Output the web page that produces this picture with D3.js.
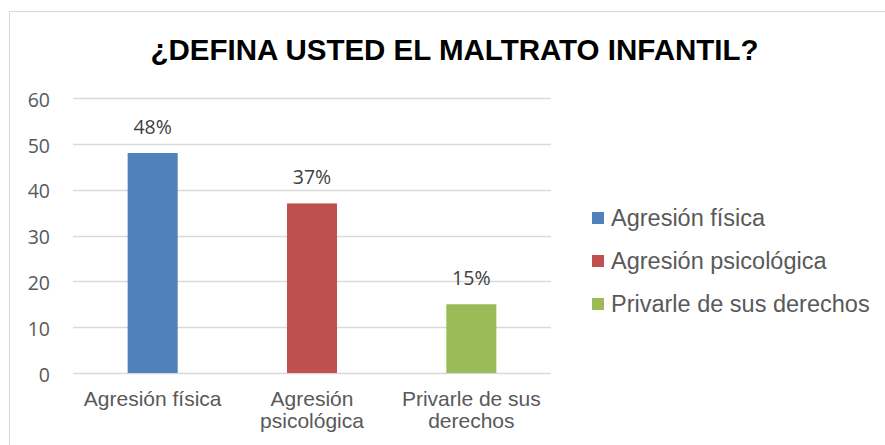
<!DOCTYPE html>
<html>
<head>
<meta charset="utf-8">
<script src="https://cdn.jsdelivr.net/npm/d3@7"></script>
<style>
  body { margin: 0; background: #fff; }
  svg { display: block; }
</style>
</head>
<body>
<div id="chart"></div>
<script>
  'use strict';

  // chart data
  var title = '¿DEFINA USTED EL MALTRATO INFANTIL?';
  var categories = ['Agresión física', 'Agresión psicológica', 'Privarle de sus derechos'];
  var axisLines = [['Agresión física'], ['Agresión', 'psicológica'], ['Privarle de sus', 'derechos']];
  var values = [48, 37, 15];
  var valueLabels = ['48%', '37%', '15%'];
  var colors = ['#4f81bd', '#c0504d', '#9bbb59'];
  var yTicks = [0, 10, 20, 30, 40, 50, 60];

  var width = 885;
  var height = 445;
  var margins = { top: 98, right: 334, bottom: 72, left: 73 };

  var svg = d3.select('#chart').append('svg')
    .attr('width', width)
    .attr('height', height);

  // chart area border (right/bottom edges fall outside the picture)
  svg.append('rect')
    .attr('x', 9.5).attr('y', 11.5)
    .attr('width', 900).attr('height', 460)
    .attr('fill', 'none')
    .attr('stroke', '#d9d9d9');

  svg.append('text')
    .attr('x', 454.5).attr('y', 60)
    .attr('text-anchor', 'middle')
    .style('font-family', 'Liberation Sans, Arial, sans-serif')
    .style('font-weight', 'bold')
    .style('font-size', '29.5px')
    .attr('fill', '#000')
    .text(title);

  var x = d3.scaleBand()
    .domain(categories)
    .range([margins.left, width - margins.right])
    .paddingInner(0.686)
    .paddingOuter(0.343);

  var y = d3.scaleLinear()
    .domain([0, 60])
    .range([height - margins.bottom, margins.top]);

  // gridlines
  svg.append('g').selectAll('line')
    .data(yTicks)
    .enter()
    .append('line')
      .attr('x1', margins.left)
      .attr('x2', width - margins.right)
      .attr('y1', function (d) { return Math.round(y(d)) + 0.5; })
      .attr('y2', function (d) { return Math.round(y(d)) + 0.5; })
      .attr('stroke', '#d9d9d9')
      .attr('stroke-width', 1.5);

  // y axis labels
  var yAxis = svg.append('g')
    .attr('transform', 'translate(' + (margins.left - 23) + ',0)')
    .call(d3.axisLeft(y).tickValues(yTicks).tickSize(0).tickPadding(0));
  yAxis.select('.domain').remove();
  yAxis.selectAll('text')
    .attr('dy', '0.42em')
    .style('font-family', 'Open Sans, sans-serif')
    .style('font-size', '19.5px')
    .attr('fill', '#595959');

  // bars
  svg.append('g').selectAll('rect')
    .data(values)
    .enter()
    .append('rect')
      .attr('x', function (d, i) { return x(categories[i]); })
      .attr('y', function (d) { return y(d); })
      .attr('width', x.bandwidth())
      .attr('height', function (d) { return y(0) - y(d); })
      .attr('fill', function (d, i) { return colors[i]; });

  // value labels
  svg.append('g').selectAll('text')
    .data(values)
    .enter()
    .append('text')
      .attr('x', function (d, i) { return x(categories[i]) + x.bandwidth() / 2; })
      .attr('y', function (d) { return y(d) - 19; })
      .attr('text-anchor', 'middle')
      .style('font-family', 'Open Sans, sans-serif')
      .style('font-size', '19.5px')
      .attr('fill', '#404040')
      .text(function (d, i) { return valueLabels[i]; });

  // category labels
  var cat = svg.append('g').selectAll('text')
    .data(categories)
    .enter()
    .append('text')
      .attr('x', function (d) { return x(d) + x.bandwidth() / 2; })
      .attr('y', 406)
      .attr('text-anchor', 'middle')
      .style('font-family', 'Liberation Sans, Arial, sans-serif')
      .style('font-size', '21px')
      .attr('fill', '#595959');
  cat.selectAll('tspan')
    .data(function (d, i) { return axisLines[i]; })
    .enter()
    .append('tspan')
      .attr('x', function () { return d3.select(this.parentNode).attr('x'); })
      .attr('dy', function (d, i) { return i === 0 ? 0 : 22; })
      .text(function (d) { return d; });

  // legend
  var legend = svg.append('g').selectAll('g')
    .data(categories)
    .enter()
    .append('g')
      .attr('transform', function (d, i) { return 'translate(592,' + (212 + i * 43) + ')'; });
  legend.append('rect')
    .attr('width', 12).attr('height', 12)
    .attr('fill', function (d, i) { return colors[i]; });
  legend.append('text')
    .attr('x', 19).attr('y', 14)
    .style('font-family', 'Liberation Sans, Arial, sans-serif')
    .style('font-size', '23.5px')
    .attr('fill', '#595959')
    .text(function (d) { return d; });
</script>
</body>
</html>
